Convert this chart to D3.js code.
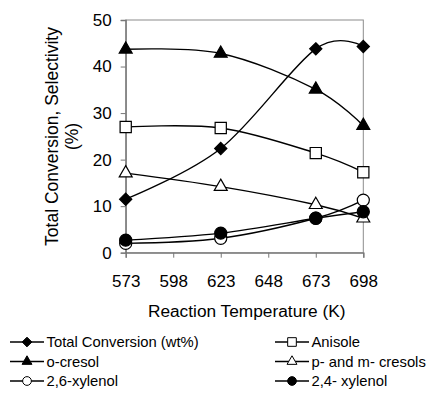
<!DOCTYPE html>
<html>
<head>
<meta charset="utf-8">
<script src="https://cdn.jsdelivr.net/npm/d3@7"></script>
<style>
  body { margin: 0; background: #fff; }
  svg { font-family: "Liberation Sans", Arial, sans-serif; }
</style>
</head>
<body>
<svg id="chart" width="427" height="393"></svg>
<script>
// temperatures (K)
const temps = [573, 623, 673, 698];
const xTicks = [573, 598, 623, 648, 673, 698];
const yTicks = [0, 10, 20, 30, 40, 50];

// values (%)
const totalConversion = [11.5, 22.4, 43.8, 44.3];
const anisole = [27.0, 26.8, 21.4, 17.3];
const oCresol = [43.7, 42.8, 35.1, 27.3];
const pmCresols = [17.1, 14.2, 10.3, 7.4];
const xylenol26 = [2.0, 3.1, 7.4, 11.3];
const xylenol24 = [2.7, 4.2, 7.4, 8.8];

const seriesNames = ["Total Conversion (wt%)", "Anisole", "o-cresol",
  "p- and m- cresols", "2,6-xylenol", "2,4- xylenol"];
const seriesValues = [totalConversion, anisole, oCresol, pmCresols, xylenol26, xylenol24];
const seriesMarks = [
  { shape: d3.symbolDiamond2, fill: "#000", size: 95, legendSize: 60 },
  { shape: d3.symbolSquare2, fill: "#fff", size: 160, legendSize: 95 },
  { shape: d3.symbolTriangle2, fill: "#000", size: 120, legendSize: 70 },
  { shape: d3.symbolTriangle2, fill: "#fff", size: 120, legendSize: 70 },
  { shape: d3.symbolCircle, fill: "#fff", size: 115, legendSize: 60 },
  { shape: d3.symbolCircle, fill: "#000", size: 115, legendSize: 60 }
];

const svg = d3.select("#chart");
const plotL = 125.7, plotR = 363.3, plotT = 20, plotB = 252.7;

const x = d3.scaleLinear().domain([573, 698]).range([plotL, plotR]);
const y = d3.scaleLinear().domain([0, 50]).range([plotB, plotT]);

// plot frame
svg.append("rect")
  .attr("x", plotL).attr("y", plotT)
  .attr("width", plotR - plotL).attr("height", plotB - plotT)
  .attr("fill", "none").attr("stroke", "#8c8c8c").attr("stroke-width", 1);

// axes
const xAxis = svg.append("g")
  .attr("transform", `translate(0,${plotB})`)
  .call(d3.axisBottom(x).tickValues(xTicks).tickSize(5).tickPadding(17.5).tickFormat(d3.format("d")));
const yAxis = svg.append("g")
  .attr("transform", `translate(${plotL},0)`)
  .call(d3.axisLeft(y).tickValues(yTicks).tickSize(5).tickPadding(9));

[xAxis, yAxis].forEach(a => {
  a.select(".domain").attr("stroke", "#777").attr("stroke-width", 1.3);
  a.selectAll(".tick line").attr("stroke", "#777");
  a.selectAll(".tick text")
    .attr("fill", "#000")
    .style("font-size", "17px")
    .style("font-family", "'Liberation Sans', Arial, sans-serif");
});

// axis titles
svg.append("text")
  .attr("x", 246.7).attr("y", 317)
  .attr("text-anchor", "middle")
  .style("font-size", "17.3px")
  .text("Reaction Temperature (K)");

const yTitle = svg.append("text")
  .attr("transform", "translate(58.3,136.5) rotate(-90)")
  .attr("text-anchor", "middle")
  .style("font-size", "17.5px");
yTitle.append("tspan").attr("x", 0).attr("dy", 0).text("Total Conversion, Selectivity");
yTitle.append("tspan").attr("x", 0).attr("dy", 20).text("(%)");

// series
const line = d3.line()
  .x((d, i) => x(temps[i]))
  .y(d => y(d))
  .curve(d3.curveCatmullRom.alpha(0));

seriesValues.forEach((vals, s) => {
  const g = svg.append("g");
  g.append("path")
    .datum(vals)
    .attr("d", line)
    .attr("fill", "none")
    .attr("stroke", "#000")
    .attr("stroke-width", 1.4);
  const m = seriesMarks[s];
  g.selectAll("path.mark")
    .data(vals)
    .enter()
    .append("path")
    .attr("class", "mark")
    .attr("transform", (d, i) => `translate(${x(temps[i])},${y(d)})`)
    .attr("d", d3.symbol().type(m.shape).size(m.size))
    .attr("fill", m.fill)
    .attr("stroke", "#000")
    .attr("stroke-width", 1.2);
});

// legend (two columns)
const legend = svg.append("g").style("font-size", "14.8px");
seriesNames.forEach((name, s) => {
  const col = s % 2, row = Math.floor(s / 2);
  const lx = col === 0 ? 10 : 275;
  const ly = 342 + row * 19.5;
  const g = legend.append("g").attr("transform", `translate(${lx},${ly})`);
  g.append("line")
    .attr("x1", 0).attr("x2", 34)
    .attr("y1", 0).attr("y2", 0)
    .attr("stroke", "#000").attr("stroke-width", 1.3);
  const m = seriesMarks[s];
  g.append("path")
    .attr("transform", "translate(17,0)")
    .attr("d", d3.symbol().type(m.shape).size(m.legendSize))
    .attr("fill", m.fill)
    .attr("stroke", "#000")
    .attr("stroke-width", 1);
  g.append("text")
    .attr("x", 36.5).attr("y", 5.3)
    .text(name);
});
</script>
</body>
</html>
